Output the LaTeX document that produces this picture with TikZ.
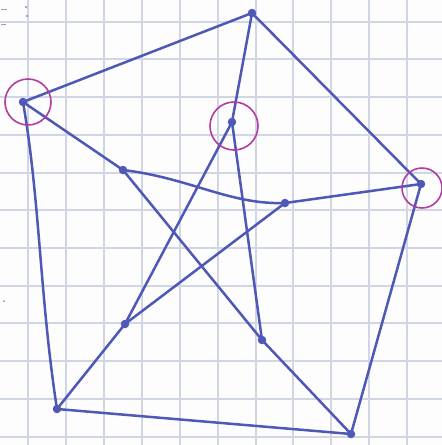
\documentclass[tikz,border=0pt]{standalone}
\begin{document}
\begin{tikzpicture}[x=1pt,y=-1pt,
  vtx/.style={circle,fill=penblue,inner sep=0pt,minimum size=8.5pt},
  edge/.style={draw=penblue,line width=2.5pt,line cap=round,line join=round},
  ring/.style={draw=ringmag,line width=1.6pt},
  gridl/.style={draw=gridc,line width=1.2pt}]
\definecolor{penblue}{RGB}{78,88,182}
\definecolor{ringmag}{RGB}{178,60,160}
\definecolor{gridc}{RGB}{208,214,228}
\definecolor{paper}{RGB}{253,253,254}
\fill[paper] (0,0) rectangle (442,445);
\useasboundingbox (0,0) rectangle (442,445);
% grid
\foreach \x in {28,66,104,142,180,218,256,293,331,369,407} \draw[gridl] (\x,0) -- (\x,445);
\foreach \y in {22,59,97,135,173,210,248,286,323,361,399,437} \draw[gridl] (0,\y) -- (442,\y);
% stray marks
\draw[penblue!60,line width=0.8pt] (1,9) -- (7,9) (1,24) -- (6,24);
\fill[penblue!70] (26,7) circle (1.1pt) (27,16) circle (1.1pt) (4,301) circle (1pt);
% vertices
\node[vtx] (T) at (252,13) {};
\node[vtx] (L) at (23,102) {};
\node[vtx] (R) at (421,184) {};
\node[vtx] (BL) at (57,409) {};
\node[vtx] (BR) at (351,434) {};
\node[vtx] (a) at (232,122) {};
\node[vtx] (b) at (123,170) {};
\node[vtx] (c) at (285,203) {};
\node[vtx] (d) at (125,324) {};
\node[vtx] (e) at (262,340) {};
% outer cycle
\path[edge] (T.center) -- (L.center);
\path[edge] (T.center) -- (R.center);
\path[edge] (L.center) .. controls (40,200) and (40,300) .. (BL.center);
\path[edge] (BL.center) -- (BR.center);
\path[edge] (BR.center) -- (R.center);
% spokes
\path[edge] (T.center) -- (a.center);
\path[edge] (L.center) -- (b.center);
\path[edge] (R.center) -- (c.center);
\path[edge] (BL.center) -- (d.center);
\path[edge] (BR.center) -- (e.center);
% inner star
\path[edge] (a.center) -- (d.center);
\path[edge] (a.center) -- (e.center);
\path[edge] (b.center) .. controls (190,178) and (230,205) .. (c.center);
\path[edge] (b.center) -- (e.center);
\path[edge] (c.center) -- (d.center);
% rings
\draw[ring] (28,102) circle (23);
\draw[ring] (234,126) circle (24);
\draw[ring] (422,188) circle (20);
\end{tikzpicture}
\end{document}
